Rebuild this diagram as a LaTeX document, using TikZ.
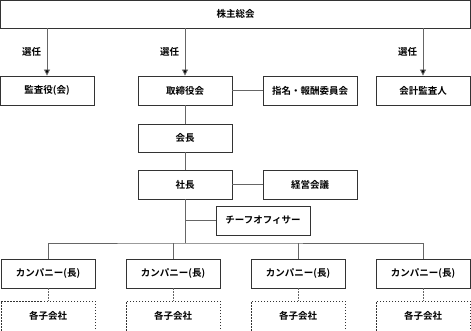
\documentclass[tikz,border=0pt]{standalone}
\usepackage{fontspec}
\setmainfont{Noto Sans CJK JP}[BoldFont={Noto Sans CJK JP Bold}]
\usetikzlibrary{arrows.meta}
\definecolor{boxline}{HTML}{333333}
\definecolor{conline}{HTML}{666666}
\begin{document}
\begin{tikzpicture}[x=1pt,y=-1pt,
  box/.style={draw=boxline,line width=0.9pt,fill=white,font=\fontsize{9.5}{11}\selectfont\bfseries,inner sep=0pt},
  subbox/.style={box,dash pattern=on 1.5pt off 1.5pt},
  con/.style={draw=conline,line width=0.9pt},
  arr/.style={con,-{Triangle[length=6pt,width=6pt,fill=black]}},
  lbl/.style={font=\fontsize{9.5}{11}\selectfont\bfseries}]
\useasboundingbox (0,0) rectangle (471,331);
\node[box,minimum width=470pt,minimum height=28pt] (gm) at (235.5,14) {株主総会};
\node[box,minimum width=94pt,minimum height=29pt] (kansa) at (47,90.5) {監査役(会)};
\node[box,minimum width=94pt,minimum height=29pt] (tori) at (185,90.5) {取締役会};
\node[box,minimum width=94pt,minimum height=29pt] (shimei) at (310,90.5) {指名・報酬委員会};
\node[box,minimum width=94pt,minimum height=29pt] (kaikei) at (423,90.5) {会計監査人};
\node[box,minimum width=94pt,minimum height=28pt] (kaicho) at (185,138) {会長};
\node[box,minimum width=94pt,minimum height=29pt] (shacho) at (185,184.5) {社長};
\node[box,minimum width=94pt,minimum height=29pt] (keiei) at (310,184.5) {経営会議};
\node[box,minimum width=94pt,minimum height=29pt] (chief) at (263,220.5) {チーフオフィサー};
\node[box,minimum width=94pt,minimum height=29pt] (c1) at (48,273.5) {カンパニー(長)};
\node[box,minimum width=94pt,minimum height=29pt] (c2) at (173,273.5) {カンパニー(長)};
\node[box,minimum width=94pt,minimum height=29pt] (c3) at (298,273.5) {カンパニー(長)};
\node[box,minimum width=94pt,minimum height=29pt] (c4) at (423,273.5) {カンパニー(長)};
\node[subbox,minimum width=94pt,minimum height=30pt] (s1) at (48,316) {各子会社};
\node[subbox,minimum width=94pt,minimum height=30pt] (s2) at (173,316) {各子会社};
\node[subbox,minimum width=94pt,minimum height=30pt] (s3) at (298,316) {各子会社};
\node[subbox,minimum width=94pt,minimum height=30pt] (s4) at (423,316) {各子会社};
\draw[arr] (gm.south -| kansa.north) -- (kansa.north) node[lbl,pos=0.5,left=2pt] (l1) {選任};
\draw[arr] (gm.south -| tori.north) -- (tori.north) node[lbl,pos=0.5,left=2pt] (l2) {選任};
\draw[arr] (gm.south -| kaikei.north) -- (kaikei.north) node[lbl,pos=0.5,left=2pt] (l3) {選任};
\draw[con] (tori) -- (shimei);
\draw[con] (tori) -- (kaicho);
\draw[con] (kaicho) -- (shacho);
\draw[con] (shacho) -- (keiei);
\coordinate (bus) at (185,243);
\draw[con] (shacho.south) -- (bus);
\draw[con] (chief.west) -- (chief.west -| shacho.south);
\draw[con] (c1.north) |- (bus) -| (c4.north);
\draw[con] (c2.north) -- (c2.north |- bus);
\draw[con] (c3.north) -- (c3.north |- bus);
\foreach \i in {1,2,3,4}{\draw[con,dash pattern=on 1.5pt off 1.5pt] (c\i) -- (s\i);}
\end{tikzpicture}
\end{document}
